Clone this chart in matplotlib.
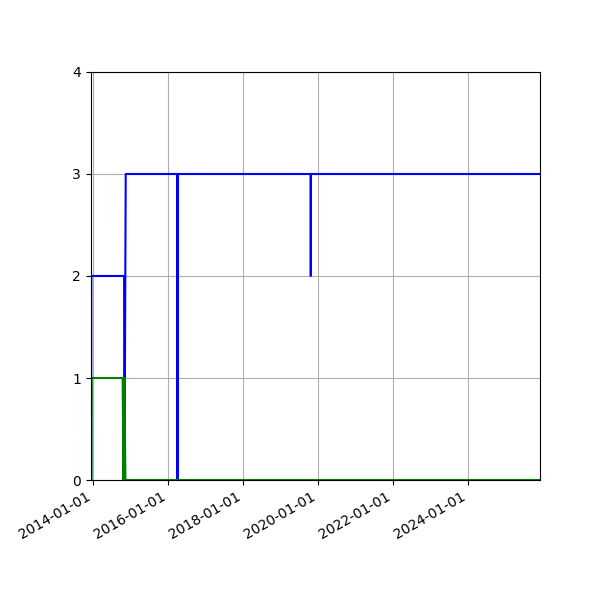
import datetime as dt
import matplotlib
matplotlib.use("Agg")
import matplotlib.pyplot as plt
import matplotlib.dates as mdates

blue_dates = ["2013-12-14", "2013-12-15", "2014-10-30", "2014-11-03", "2014-11-15",
              "2016-03-31", "2016-04-02", "2016-04-04", "2019-10-20", "2019-10-22",
              "2019-10-24", "2025-12-01"]
blue_vals = [0, 2, 2, 0, 3, 3, 0, 3, 3, 2, 3, 3]

green_dates = ["2013-12-16", "2013-12-18", "2014-10-16", "2014-10-24", "2014-11-02",
               "2014-11-12", "2025-12-01"]
green_vals = [0, 1, 1, 0, 1, 0, 0]


def to_dates(lst):
    return [dt.datetime.strptime(s, "%Y-%m-%d") for s in lst]


bd = to_dates(blue_dates)
gd = to_dates(green_dates)

fig = plt.figure(figsize=(6, 6), dpi=100)
ax = fig.add_axes([0.151, 0.2, 0.749, 0.68])
ax.plot(bd, blue_vals, color="b")
ax.plot(gd, green_vals, color="g")

ax.set_xlim(dt.datetime(2013, 12, 8), bd[-1])
ax.set_ylim(0, 4)
ax.set_yticks([0, 1, 2, 3, 4])
ax.xaxis.set_major_locator(mdates.YearLocator(2))
ax.xaxis.set_major_formatter(mdates.DateFormatter("%Y-%m-%d"))
for lab in ax.get_xticklabels():
    lab.set_rotation(30)
    lab.set_ha("right")
ax.grid(True)

fig.savefig("out.png", dpi=100)
